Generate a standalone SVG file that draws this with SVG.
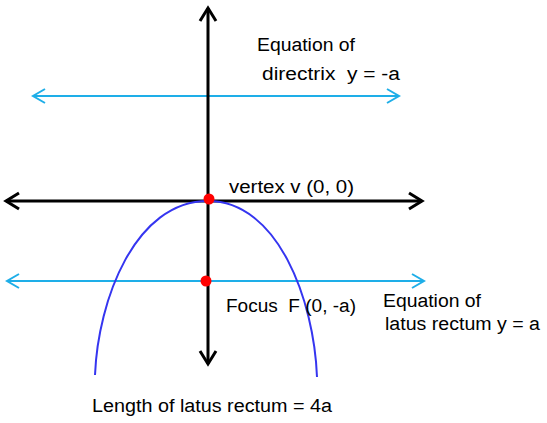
<svg xmlns="http://www.w3.org/2000/svg" width="547" height="423" viewBox="0 0 547 423">
  <style>
    .lbl { font-family: "Comic Sans MS", "Liberation Sans", "DejaVu Sans", sans-serif; font-size: 18px; fill: #000; white-space: pre; }
    .axis { stroke: #000; stroke-width: 3; fill: none; }
    .blue { stroke: #1EAEE8; stroke-width: 2; fill: none; }
  </style>
  <defs>
    <marker id="ah-black" markerUnits="userSpaceOnUse" markerWidth="20" markerHeight="24" viewBox="-16 -12 20 24" refX="0" refY="0" orient="auto-start-reverse" overflow="visible">
      <path d="M -13,-8 L 0,0 L -13,8" fill="none" stroke="#000" stroke-width="3" stroke-linejoin="miter"/>
    </marker>
    <marker id="ah-blue" markerUnits="userSpaceOnUse" markerWidth="20" markerHeight="24" viewBox="-16 -12 20 24" refX="0" refY="0" orient="auto-start-reverse" overflow="visible">
      <path d="M -12,-7 L 0,0 L -12,7" fill="none" stroke="#1EAEE8" stroke-width="2"/>
    </marker>
  </defs>
  <rect width="547" height="423" fill="#fff"/>

  <g id="connectors">
    <line id="directrix" class="blue" x1="33" y1="96" x2="399" y2="96" marker-start="url(#ah-blue)" marker-end="url(#ah-blue)"/>
    <line id="latus-rectum" class="blue" x1="7" y1="281" x2="424" y2="281" marker-start="url(#ah-blue)" marker-end="url(#ah-blue)"/>
    <line id="x-axis" class="axis" x1="6" y1="201" x2="422" y2="201" marker-start="url(#ah-black)" marker-end="url(#ah-black)"/>
    <line id="y-axis" class="axis" x1="208" y1="8" x2="208" y2="364" marker-start="url(#ah-black)" marker-end="url(#ah-black)"/>
    <path id="parabola" d="M 95,375 C 98,300 135,201 208,201 C 278,201 314,300 317,377" fill="none" stroke="#3535F0" stroke-width="2"/>
  </g>

  <g id="vertex">
    <circle cx="209" cy="199" r="5.5" fill="#FF0000"/>
    <text class="lbl" x="229" y="193" textLength="125" lengthAdjust="spacingAndGlyphs">vertex v (0, 0)</text>
  </g>
  <g id="focus">
    <circle cx="206" cy="281" r="5.5" fill="#FF0000"/>
    <text class="lbl" x="226" y="312" textLength="130" lengthAdjust="spacingAndGlyphs">Focus  F (0, -a)</text>
  </g>
  <g id="directrix-label">
    <text class="lbl" x="257" y="51" textLength="98" lengthAdjust="spacingAndGlyphs">Equation of</text>
    <text class="lbl" x="262" y="80" textLength="138" lengthAdjust="spacingAndGlyphs">directrix  y = -a</text>
  </g>
  <g id="latus-label">
    <text class="lbl" x="383" y="307" textLength="98" lengthAdjust="spacingAndGlyphs">Equation of</text>
    <text class="lbl" x="385" y="330" textLength="155" lengthAdjust="spacingAndGlyphs">latus rectum y = a</text>
  </g>
  <g id="length-label">
    <text class="lbl" x="92" y="412" textLength="240" lengthAdjust="spacingAndGlyphs">Length of latus rectum = 4a</text>
  </g>
</svg>
